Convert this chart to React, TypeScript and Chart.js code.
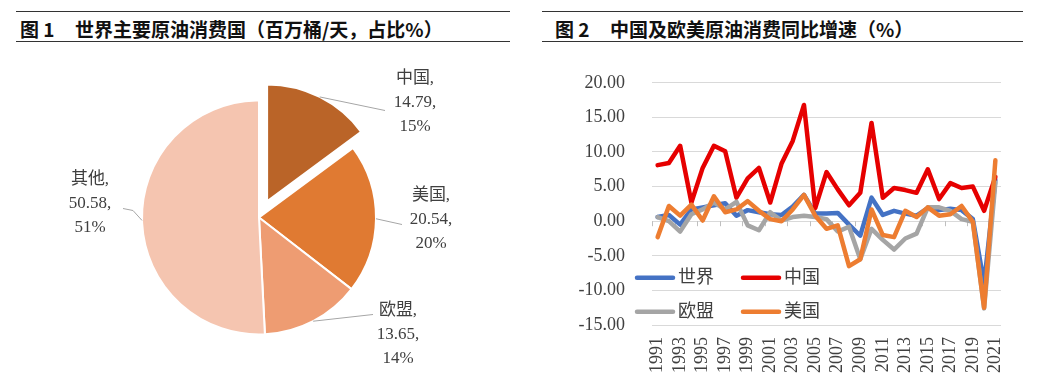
import React, { useEffect, useRef } from 'react';
import { Chart, registerables } from 'chart.js';

Chart.register(...registerables);

// ---------- Pie data ----------
const pieNames = ['中国', '美国', '欧盟', '其他'];
const pieValues = [14.79, 20.54, 13.65, 50.58];
const piePercents = ['15%', '20%', '14%', '51%'];

// ---------- Line data ----------
const years = [
  '1991', '1992', '1993', '1994', '1995', '1996', '1997', '1998', '1999', '2000',
  '2001', '2002', '2003', '2004', '2005', '2006', '2007', '2008', '2009', '2010',
  '2011', '2012', '2013', '2014', '2015', '2016', '2017', '2018', '2019', '2020', '2021',
];
const worldGrowth = [
  0.6, 0.9, -0.5, 1.7, 2.0, 2.3, 2.6, 0.8, 1.6, 1.3,
  1.0, 0.9, 2.1, 3.8, 1.1, 1.1, 1.2, -0.5, -2.1, 3.4,
  0.9, 1.5, 1.1, 0.8, 1.9, 1.6, 1.8, 1.6, 0.3, -9.0, 6.0,
];
const chinaGrowth = [
  8.1, 8.4, 10.9, 2.7, 7.7, 10.9, 10.1, 3.4, 6.2, 7.7,
  2.7, 8.3, 11.6, 16.8, 1.9, 7.1, 4.6, 2.3, 4.1, 14.2,
  3.4, 4.8, 4.5, 4.1, 7.5, 3.2, 5.5, 4.8, 5.0, 1.5, 6.4,
];
const euGrowth = [
  0.6, 0.0, -1.5, 1.0, 1.7, 2.7, 1.7, 2.8, -0.6, -1.3,
  1.3, 0.1, 0.6, 0.8, 0.6, 0.3, -1.5, -0.8, -5.5, -1.1,
  -2.7, -4.1, -2.5, -1.8, 2.0, 2.0, 1.5, 0.3, -0.1, -12.6, 5.6,
];
const usGrowth = [
  -2.3, 2.2, 0.8, 2.4, 0.1, 3.6, 1.3, 1.7, 2.9, 1.5,
  0.3, 0.0, 1.7, 3.8, 0.8, -1.1, -0.6, -6.5, -5.5, 1.7,
  -2.0, -2.3, 1.5, 0.6, 2.0, 0.8, 1.0, 2.2, -0.1, -12.5, 8.8,
];
const seriesNames = ['世界', '中国', '欧盟', '美国'];
const yMin = -15;
const yMax = 20;
const yStep = 5;

// ---------- Styles ----------
const pieColors = ['#BA6428', '#E07A32', '#EE9C72', '#F5C5B0'];
const seriesColors = ['#4472C4', '#E60000', '#A5A5A5', '#ED7D31'];
const explodeOffsets = [18, 0, 0, 0];
const serifFont = "'Liberation Serif', 'Noto Sans CJK SC', serif";
const textColor = '#404040';

// label placement relative to the pie centre (styling only)
const pieLabelLayout = [
  { tx: 156, ty: -115, ex: 126, ey: -107 },
  { tx: 172, ty: 2, ex: 143, ey: 7 },
  { tx: 139, ty: 117, ex: 114, ey: 97 },
  { tx: -169, ty: -14, ex: -136, ey: -9, kx: -126, ky: -7 },
];

const pieDrawPlugin = {
  id: 'explodedPieDraw',
  beforeDatasetsDraw(chart: any) {
    const ctx = chart.ctx;
    const meta = chart.getDatasetMeta(0);
    meta.data.forEach((el: any, i: number) => {
      const ex = explodeOffsets[i] || 0;
      const mid = (el.startAngle + el.endAngle) / 2;
      ctx.save();
      ctx.translate(Math.cos(mid) * ex, Math.sin(mid) * ex);
      el.draw(ctx);
      ctx.restore();
    });
    return false;
  },
  afterDraw(chart: any) {
    const ctx = chart.ctx;
    const meta = chart.getDatasetMeta(0);
    const ds = chart.data.datasets[0];
    ctx.save();
    meta.data.forEach((el: any, i: number) => {
      const mid = (el.startAngle + el.endAngle) / 2;
      const r = el.outerRadius + (explodeOffsets[i] || 0);
      const sx = el.x + Math.cos(mid) * r;
      const sy = el.y + Math.sin(mid) * r;
      const L: any = pieLabelLayout[i];
      ctx.strokeStyle = '#A6A6A6';
      ctx.lineWidth = 1;
      ctx.beginPath();
      ctx.moveTo(sx, sy);
      if (L.kx !== undefined) ctx.lineTo(el.x + L.kx, el.y + L.ky);
      ctx.lineTo(el.x + L.ex, el.y + L.ey);
      ctx.stroke();
      ctx.fillStyle = textColor;
      ctx.font = `17px ${serifFont}`;
      ctx.textAlign = 'center';
      ctx.textBaseline = 'middle';
      const lines = [
        chart.data.labels[i] + ',',
        Number(ds.data[i]).toFixed(2) + ',',
        piePercents[i],
      ];
      lines.forEach((t, k) => ctx.fillText(t, el.x + L.tx, el.y + L.ty + (k - 1) * 24));
    });
    ctx.restore();
  },
};

const lineExtrasPlugin = {
  id: 'lineExtras',
  beforeDatasetsDraw(chart: any) {
    const ctx = chart.ctx;
    const xs = chart.scales.x;
    const ys = chart.scales.y;
    const y0 = ys.getPixelForValue(0);
    const n = chart.data.labels.length;
    const w = xs.width / n;
    ctx.save();
    ctx.strokeStyle = '#BFBFBF';
    ctx.lineWidth = 1;
    for (let i = 0; i <= n; i += 2) {
      const px = Math.round(xs.left + i * w) + 0.5;
      ctx.beginPath();
      ctx.moveTo(px, y0);
      ctx.lineTo(px, y0 + 5);
      ctx.stroke();
    }
    ctx.restore();
  },
  afterDraw(chart: any) {
    const ctx = chart.ctx;
    const { left, top } = chart.chartArea;
    const cols = [-15, 91];
    const rows = [195, 229];
    ctx.save();
    ctx.font = `18px ${serifFont}`;
    ctx.textAlign = 'left';
    ctx.textBaseline = 'middle';
    chart.data.datasets.forEach((ds: any, i: number) => {
      const x = left + cols[i % 2];
      const y = top + rows[Math.floor(i / 2)];
      ctx.strokeStyle = ds.borderColor;
      ctx.lineWidth = 4.5;
      ctx.lineCap = 'round';
      ctx.beginPath();
      ctx.moveTo(x, y);
      ctx.lineTo(x + 36, y);
      ctx.stroke();
      ctx.fillStyle = textColor;
      ctx.fillText(ds.label, x + 41, y);
    });
    ctx.restore();
  },
};

export default function App() {
  const pieRef = useRef<HTMLCanvasElement>(null);
  const lineRef = useRef<HTMLCanvasElement>(null);

  useEffect(() => {
    const pie = new Chart(pieRef.current as HTMLCanvasElement, {
      type: 'pie',
      data: {
        labels: pieNames,
        datasets: [
          {
            data: pieValues,
            backgroundColor: pieColors,
            borderColor: '#ffffff',
            borderWidth: 2,
          },
        ],
      },
      options: {
        responsive: false,
        animation: false,
        radius: 117,
        layout: { padding: { top: 13, bottom: 0, left: 0, right: 0 } },
        plugins: { legend: { display: false }, tooltip: { enabled: false } },
      } as any,
      plugins: [pieDrawPlugin],
    });

    const seriesData = [worldGrowth, chinaGrowth, euGrowth, usGrowth];
    const drawOrder = [3, 2, 1, 0];
    const line = new Chart(lineRef.current as HTMLCanvasElement, {
      type: 'line',
      data: {
        labels: years,
        datasets: seriesNames.map((name, i) => ({
          label: name,
          data: seriesData[i],
          borderColor: seriesColors[i],
          backgroundColor: seriesColors[i],
          borderWidth: 4.5,
          pointRadius: 0,
          tension: 0,
          borderJoinStyle: 'round',
          borderCapStyle: 'round',
          order: drawOrder[i],
          fill: false,
        })),
      },
      options: {
        responsive: false,
        animation: false,
        layout: { padding: { top: 32, right: 54, left: 0, bottom: 0 } },
        plugins: { legend: { display: false }, tooltip: { enabled: false } },
        scales: {
          x: {
            type: 'category',
            offset: true,
            grid: { display: false, drawTicks: false },
            border: { display: false },
            ticks: {
              autoSkip: false,
              minRotation: 90,
              maxRotation: 90,
              padding: 12,
              color: textColor,
              font: { family: serifFont, size: 18 },
              callback: (_v: any, i: number) => (i % 2 === 0 ? years[i] : ''),
            },
            afterFit: (s: any) => {
              s.height = 52;
            },
          },
          y: {
            min: yMin,
            max: yMax,
            grid: { color: '#D9D9D9', lineWidth: 1, drawTicks: false },
            border: { display: false },
            ticks: {
              stepSize: yStep,
              padding: 27,
              color: textColor,
              font: { family: serifFont, size: 18 },
              callback: (v: any) => Number(v).toFixed(2),
            },
            afterFit: (s: any) => {
              s.width = 112;
            },
          },
        },
      } as any,
      plugins: [lineExtrasPlugin],
    });

    return () => {
      pie.destroy();
      line.destroy();
    };
  }, []);

  const titleFont: React.CSSProperties = {
    position: 'absolute',
    top: 7,
    fontFamily: "'Noto Sans CJK SC', sans-serif",
    fontWeight: 700,
    fontSize: 19,
    lineHeight: '20px',
    color: '#111',
    whiteSpace: 'nowrap',
  };
  const ruleBox: React.CSSProperties = {
    position: 'absolute',
    top: 11,
    height: 31,
    boxSizing: 'border-box',
    borderTop: '1px solid #333',
    borderBottom: '1px solid #333',
  };

  return (
    <div
      style={{
        position: 'absolute',
        left: 0,
        top: 0,
        width: 1055,
        height: 377,
        background: '#ffffff',
        overflow: 'hidden',
      }}
    >
      <div style={{ ...ruleBox, left: 16, width: 494 }}>
        <span style={{ ...titleFont, left: 4 }}>图 1</span>
        <span style={{ ...titleFont, left: 59 }}>世界主要原油消费国（百万桶/天，占比%）</span>
      </div>
      <div style={{ ...ruleBox, left: 542, width: 481 }}>
        <span style={{ ...titleFont, left: 13 }}>图 2</span>
        <span style={{ ...titleFont, left: 68 }}>中国及欧美原油消费同比增速（%）</span>
      </div>
      <canvas
        ref={pieRef}
        width={518}
        height={332}
        style={{ position: 'absolute', left: 0, top: 45, width: 518, height: 332 }}
      />
      <canvas
        ref={lineRef}
        width={515}
        height={332}
        style={{ position: 'absolute', left: 540, top: 45, width: 515, height: 332 }}
      />
    </div>
  );
}
